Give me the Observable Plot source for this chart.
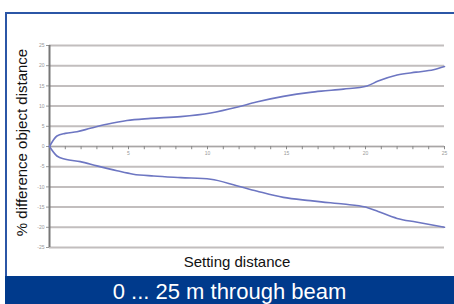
<!DOCTYPE html>
<html>
<head>
<meta charset="utf-8">
<script src="https://cdn.jsdelivr.net/npm/d3@7"></script>
<script src="https://cdn.jsdelivr.net/npm/@observablehq/plot@0.6"></script>
<style>
  html, body { margin: 0; padding: 0; background: #fff; }
  #wrap { position: relative; width: 454px; height: 304px; overflow: hidden; background: #fff; font-family: "Liberation Sans", Arial, sans-serif; }
  #frame { position: absolute; left: 5px; top: 12px; width: 449px; height: 264px; border-left: 2px solid #2b56a6; border-top: 2px solid #2b56a6; box-sizing: border-box; }
  #chart { position: absolute; left: 0; top: 0; }
  #banner { position: absolute; left: 5px; top: 276px; width: 449px; height: 28px; background: #003a8c; color: #fff; font-size: 22px; text-align: center; line-height: 32px; white-space: nowrap; }
</style>
</head>
<body>
<div id="wrap">
  <div id="frame"></div>
  <div id="chart"></div>
  <div id="banner">0 ... 25 m through beam</div>
</div>
<script>
// Data
const upperX = [0, 0.47, 1.0, 1.74, 2.58, 3.63, 4.9, 6.4, 8.3, 10.2, 11.85, 13.1, 14.8, 16.5, 17.2, 18.6, 20.1, 20.8, 22.0, 23.2, 24.3, 25];
const upperY = [0, 2.6, 3.25, 3.65, 4.5, 5.5, 6.45, 6.95, 7.4, 8.3, 9.7, 11.0, 12.4, 13.4, 13.7, 14.2, 15.0, 16.2, 17.7, 18.4, 19.0, 19.8];
const lowerX = [0, 0.47, 1.0, 1.95, 3.0, 4.27, 5.3, 6.6, 8.3, 10.2, 11.85, 13.1, 14.8, 16.5, 17.2, 18.6, 20.0, 20.8, 22.0, 23.2, 25];
const lowerY = [0, -2.35, -3.15, -3.75, -4.8, -6.0, -6.85, -7.3, -7.7, -8.1, -9.7, -11.0, -12.6, -13.4, -13.7, -14.25, -15.0, -16.1, -17.8, -18.7, -20.0];
const yTicks = [25, 20, 15, 10, 5, 0, -5, -10, -15, -20, -25];
const xLabels = [5, 10, 15, 20, 25];
const xMinor = d3.range(1, 26);
const xTitle = "Setting distance";
const yTitle = "% difference object distance";

const upper = upperX.map((x, i) => ({x, y: upperY[i]}));
const lower = lowerX.map((x, i) => ({x, y: lowerY[i]}));

const chart = Plot.plot({
  width: 454,
  height: 276,
  marginLeft: 49,
  marginRight: 10,
  marginTop: 45,
  marginBottom: 29,
  style: {fontFamily: "Liberation Sans, Arial, sans-serif", background: "transparent", overflow: "visible"},
  x: {domain: [0, 25], axis: null},
  y: {domain: [-25, 25]},
  marks: [
    Plot.ruleY(yTicks, {y: d => d, x1: 0, x2: 25, stroke: "#c2bebe", strokeWidth: 2}),
    Plot.ruleY([0], {x1: 0, x2: 25, stroke: "#a8a6a6", strokeWidth: 1}),
    Plot.ruleX(xMinor, {x: d => d, y1: 0, y2: -0.8, stroke: "#888", strokeWidth: 1}),
    Plot.text(xLabels, {x: d => d, y: 0, dy: 7, text: d => String(d), fontSize: 5, fill: "#999"}),
    Plot.axisY({ticks: yTicks, tickSize: 3, tickPadding: 2, fontSize: 5, color: "#999", label: null, tickFormat: d => String(d)}),
    Plot.ruleX([0], {y1: -25, y2: 25, stroke: "#777", strokeWidth: 2}),
    Plot.line(upper, {x: "x", y: "y", curve: "monotone-x", stroke: "#6d76c2", strokeWidth: 1.6}),
    Plot.line(lower, {x: "x", y: "y", curve: "monotone-x", stroke: "#6d76c2", strokeWidth: 1.6}),
    Plot.text([xTitle], {frameAnchor: "bottom", textAnchor: "middle", dy: 19, dx: -10, fontSize: 15, fill: "#111"}),
    Plot.text([yTitle], {frameAnchor: "left", textAnchor: "middle", rotate: -90, dx: -27, dy: -4, fontSize: 15, fill: "#111"})
  ]
});
document.getElementById("chart").appendChild(chart);
</script>
</body>
</html>
